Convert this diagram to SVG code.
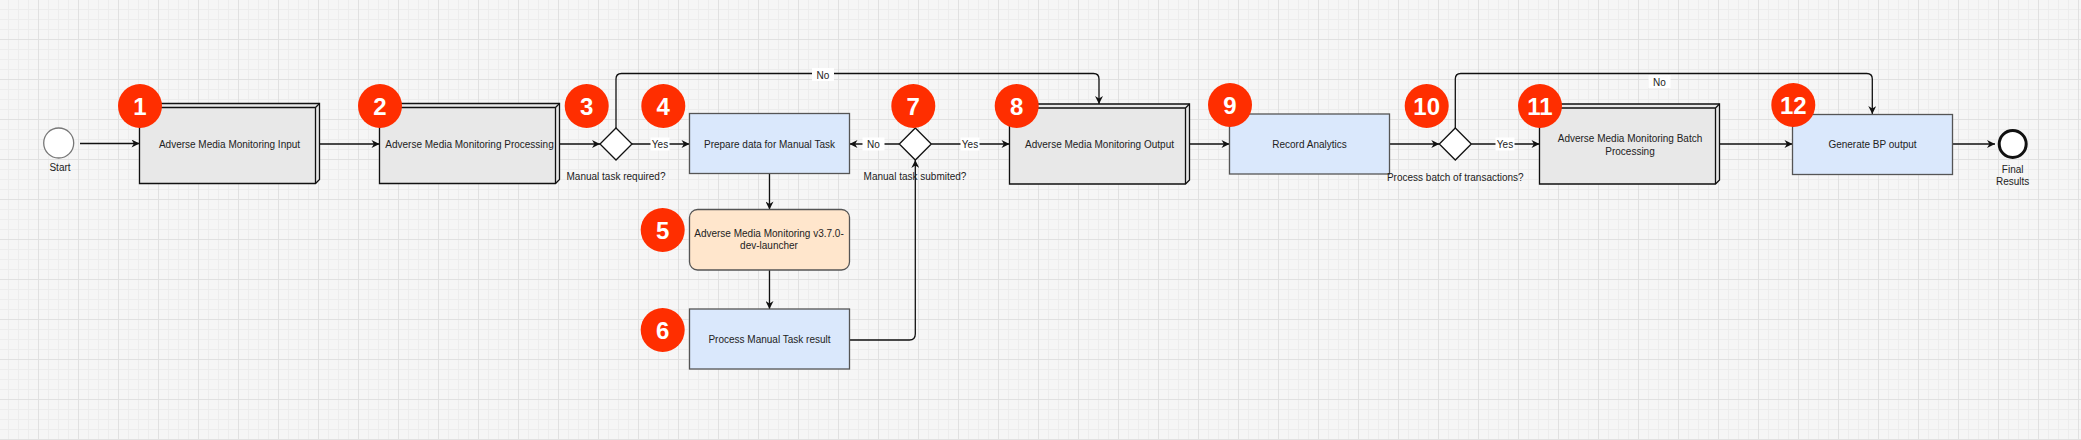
<svg xmlns="http://www.w3.org/2000/svg" width="2081" height="440" viewBox="0 0 2081 440">
<style>
.t{font-family:"Liberation Sans",Arial,sans-serif;font-size:10px;fill:#222;text-anchor:middle}
.b{font-family:"Liberation Sans",Arial,sans-serif;font-size:24px;font-weight:bold;fill:#fff;text-anchor:middle}
.cube{fill:#e8e8e8;stroke:#111;stroke-width:1.3}
.edge{fill:none;stroke:#111;stroke-width:1.3}
.task{fill:#dae8fc;stroke:#555;stroke-width:1.3}
.badge{fill:#ff2e00}
.gw{fill:#fff;stroke:#111;stroke-width:1.3}
.lbl{fill:#fff}
</style>
<defs>
<pattern id="grid" x="38" y="39" width="40" height="40" patternUnits="userSpaceOnUse">
<rect width="40" height="40" fill="#f6f6f6"/>
<path d="M10.5 0V40M20.5 0V40M30.5 0V40M0 10.5H40M0 20.5H40M0 30.5H40" stroke="#ededed" stroke-width="1"/>
<path d="M0.5 0V40M0 0.5H40" stroke="#e1e1e1" stroke-width="1"/>
</pattern>
<marker id="arr" viewBox="0 0 10 10" refX="10" refY="5" markerWidth="9" markerHeight="8" markerUnits="userSpaceOnUse" orient="auto">
<path d="M0,0 L10,5 L0,10 L3,5 Z" fill="#111"/>
</marker>
</defs>
<rect width="2081" height="440" fill="url(#grid)"/>

<g id="connectors">
<path class="edge" d="M80 143.5 L139.5 143.5" marker-end="url(#arr)"/>
<path class="edge" d="M319.5 144 L379.5 144" marker-end="url(#arr)"/>
<path class="edge" d="M559.5 144 L600 144" marker-end="url(#arr)"/>
<path class="edge" d="M632 144 L689.5 144" marker-end="url(#arr)"/>
<path class="edge" d="M616 128 L616 79 Q616 73.5 621.5 73.5 L1093.5 73.5 Q1099 73.5 1099 79 L1099 104" marker-end="url(#arr)"/>
<path class="edge" d="M769.5 173.5 L769.5 209.5" marker-end="url(#arr)"/>
<path class="edge" d="M769.5 270 L769.5 309" marker-end="url(#arr)"/>
<path class="edge" d="M849.5 340 L909.5 340 Q915.3 340 915.3 334 L915.3 160" marker-end="url(#arr)"/>
<path class="edge" d="M899.3 144 L849.5 144" marker-end="url(#arr)"/>
<path class="edge" d="M931.3 144 L1009.5 144" marker-end="url(#arr)"/>
<path class="edge" d="M1189.5 144 L1229.5 144" marker-end="url(#arr)"/>
<path class="edge" d="M1389.5 144 L1439.3 144" marker-end="url(#arr)"/>
<path class="edge" d="M1471.3 144 L1539.5 144" marker-end="url(#arr)"/>
<path class="edge" d="M1455.3 128 L1455.3 79 Q1455.3 73.5 1460.8 73.5 L1866.8 73.5 Q1872.3 73.5 1872.3 79 L1872.3 114" marker-end="url(#arr)"/>
<path class="edge" d="M1719.5 144 L1792.5 144" marker-end="url(#arr)"/>
<path class="edge" d="M1952.5 144 L1995 144" marker-end="url(#arr)"/>
<rect class="lbl" x="812" y="68" width="22" height="13"/>
<text class="t" x="823" y="78.5">No</text>
<rect class="lbl" x="650.5" y="137.5" width="19" height="13"/>
<text class="t" x="660" y="147.5">Yes</text>
<rect class="lbl" x="862.5" y="137.5" width="22" height="13"/>
<text class="t" x="873.5" y="147.5">No</text>
<rect class="lbl" x="960.5" y="137.5" width="19" height="13"/>
<text class="t" x="970" y="147.5">Yes</text>
<rect class="lbl" x="1495.5" y="137.5" width="19" height="13"/>
<text class="t" x="1505" y="147.5">Yes</text>
<rect class="lbl" x="1648.5" y="75" width="22" height="13"/>
<text class="t" x="1659.5" y="85.5">No</text>
</g>

<g id="start">
<circle cx="58.7" cy="143" r="15" fill="#fff" stroke="#777" stroke-width="1.3"/>
<text class="t" x="60" y="171">Start</text>
</g>

<g id="node1">
<path class="cube" d="M139.5 107.5 L143.5 103.5 L319.5 103.5 L319.5 179.5 L315.5 183.5 L139.5 183.5 Z"/>
<path class="edge" d="M139.5 107.5 L315.5 107.5 L315.5 183.5 M315.5 107.5 L319.5 103.5"/>
<text class="t" x="229.5" y="147.5">Adverse Media Monitoring Input</text>
</g>

<g id="node2">
<path class="cube" d="M379.5 107.5 L383.5 103.5 L559.5 103.5 L559.5 179.5 L555.5 183.5 L379.5 183.5 Z"/>
<path class="edge" d="M379.5 107.5 L555.5 107.5 L555.5 183.5 M555.5 107.5 L559.5 103.5"/>
<text class="t" x="469.5" y="147.5">Adverse Media Monitoring Processing</text>
</g>

<g id="node3">
<polygon class="gw" points="616,128 632,144 616,160 600,144"/>
<text class="t" x="616" y="179.5">Manual task required?</text>
</g>

<g id="node4">
<rect class="task" x="689.5" y="113.5" width="160" height="60"/>
<text class="t" x="769.5" y="147.5">Prepare data for Manual Task</text>
</g>

<g id="node5">
<rect x="689.5" y="209.5" width="160" height="60.5" rx="8" fill="#ffe6cc" stroke="#555" stroke-width="1.3"/>
<text class="t" x="769" y="236.8">Adverse Media Monitoring v3.7.0-</text>
<text class="t" x="769" y="249.2">dev-launcher</text>
</g>

<g id="node6">
<rect class="task" x="689.5" y="309" width="160" height="60"/>
<text class="t" x="769.5" y="343">Process Manual Task result</text>
</g>

<g id="node7">
<polygon class="gw" points="915.3,128 931.3,144 915.3,160 899.3,144"/>
<text class="t" x="915" y="179.5">Manual task submited?</text>
</g>

<g id="node8">
<path class="cube" d="M1009.5 108 L1013.5 104 L1189.5 104 L1189.5 180 L1185.5 184 L1009.5 184 Z"/>
<path class="edge" d="M1009.5 108 L1185.5 108 L1185.5 184 M1185.5 108 L1189.5 104"/>
<text class="t" x="1099.5" y="147.5">Adverse Media Monitoring Output</text>
</g>

<g id="node9">
<rect class="task" x="1229.5" y="114" width="160" height="60"/>
<text class="t" x="1309.5" y="147.5">Record Analytics</text>
</g>

<g id="node10">
<polygon class="gw" points="1455.3,128 1471.3,144 1455.3,160 1439.3,144"/>
<text class="t" x="1455.3" y="180.5">Process batch of transactions?</text>
</g>

<g id="node11">
<path class="cube" d="M1539.5 108 L1543.5 104 L1719.5 104 L1719.5 180 L1715.5 184 L1539.5 184 Z"/>
<path class="edge" d="M1539.5 108 L1715.5 108 L1715.5 184 M1715.5 108 L1719.5 104"/>
<text class="t" x="1630" y="142.2">Adverse Media Monitoring Batch</text>
<text class="t" x="1630" y="154.5">Processing</text>
</g>

<g id="node12">
<rect class="task" x="1792.5" y="114.5" width="160" height="60"/>
<text class="t" x="1872.5" y="147.5">Generate BP output</text>
</g>

<g id="end">
<circle cx="2012.7" cy="144" r="13.5" fill="#fff" stroke="#111" stroke-width="3"/>
<text class="t" x="2012.7" y="172.5">Final</text>
<text class="t" x="2012.7" y="184.5">Results</text>
</g>

<g id="badges">
<g id="badge1"><circle class="badge" cx="140" cy="106" r="22"/><text class="b" x="140" y="114.5">1</text></g>
<g id="badge2"><circle class="badge" cx="380" cy="106" r="22"/><text class="b" x="380" y="114.5">2</text></g>
<g id="badge3"><circle class="badge" cx="586.7" cy="106" r="22"/><text class="b" x="586.7" y="114.5">3</text></g>
<g id="badge4"><circle class="badge" cx="663.3" cy="106" r="22"/><text class="b" x="663.3" y="114.5">4</text></g>
<g id="badge5"><circle class="badge" cx="662.7" cy="230" r="22"/><text class="b" x="662.7" y="238.5">5</text></g>
<g id="badge6"><circle class="badge" cx="662.7" cy="330" r="22"/><text class="b" x="662.7" y="338.5">6</text></g>
<g id="badge7"><circle class="badge" cx="913.3" cy="106" r="22"/><text class="b" x="913.3" y="114.5">7</text></g>
<g id="badge8"><circle class="badge" cx="1016.7" cy="106" r="22"/><text class="b" x="1016.7" y="114.5">8</text></g>
<g id="badge9"><circle class="badge" cx="1230" cy="105" r="22"/><text class="b" x="1230" y="113.5">9</text></g>
<g id="badge10"><circle class="badge" cx="1426.7" cy="106" r="22"/><text class="b" x="1426.7" y="114.5">10</text></g>
<g id="badge11"><circle class="badge" cx="1540" cy="106" r="22"/><text class="b" x="1540" y="114.5">11</text></g>
<g id="badge12"><circle class="badge" cx="1793.3" cy="105" r="22"/><text class="b" x="1793.3" y="113.5">12</text></g>
</g>
</svg>
